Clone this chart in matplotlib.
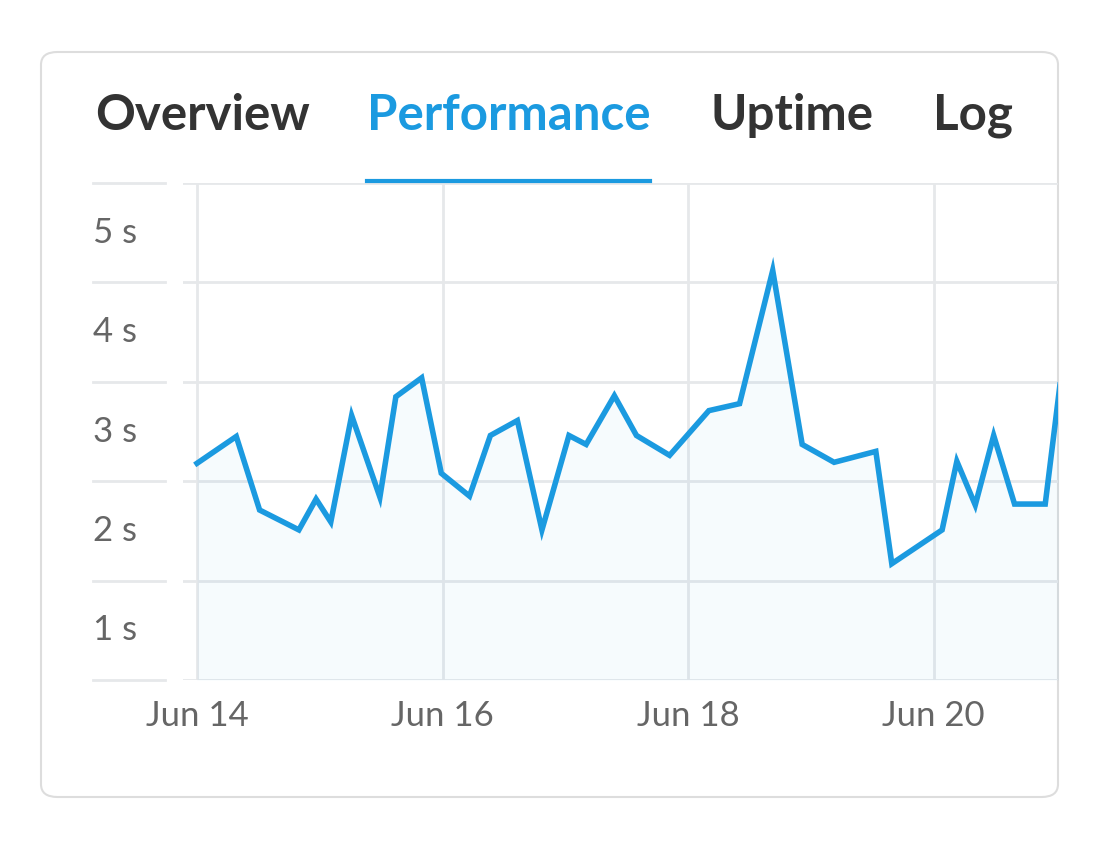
import matplotlib
matplotlib.use("Agg")
import matplotlib.pyplot as plt
from matplotlib.patches import FancyBboxPatch
import numpy as np

days = [14.00,14.32,14.51,14.83,14.97,15.09,15.26,15.49,15.62,15.83,15.99,16.22,16.39,16.61,16.81,17.03,17.17,17.40,17.58,17.85,18.17,18.42,18.69,18.93,19.19,19.53,19.66,20.07,20.19,20.34,20.49,20.66,20.91,21.03]
secs = [2.18,2.45,1.71,1.51,1.82,1.59,2.66,1.84,2.85,3.04,2.08,1.85,2.46,2.61,1.51,2.46,2.37,2.86,2.46,2.26,2.71,2.78,4.12,2.37,2.19,2.30,1.17,1.51,2.20,1.76,2.46,1.77,1.77,2.97]
tabs = ["Overview", "Performance", "Uptime", "Log"]
xticks = [14, 16, 18, 20]
xlabels = ["Jun 14", "Jun 16", "Jun 18", "Jun 20"]
yticks = [1, 2, 3, 4, 5]

W, H = 1100, 850
fig = plt.figure(figsize=(11, 8.5), dpi=100)
fig.patch.set_facecolor("white")
blue = "#1b9ae0"
font = "Lato"

card = FancyBboxPatch((41/W, 1-797/H), 1017/W, 745/H, boxstyle="round,pad=0,rounding_size=0.015",
                      transform=fig.transFigure, facecolor="white", edgecolor="#dddddd", lw=1.5, zorder=-5)
fig.patches.append(card)

tabx = [95, 367, 710, 933]
for i, (t, x) in enumerate(zip(tabs, tabx)):
    fig.text(x/W, 1-116/H, t, fontsize=35.5, fontweight="bold", family=font,
             color=blue if i == 1 else "#333333", va="center", ha="left")
fig.add_artist(plt.Line2D([367/W, 650/W], [1-181/H, 1-181/H], color=blue, lw=3, transform=fig.transFigure))

ax = fig.add_axes([183/W, 1-680/H, (1058-183)/W, (680-183)/H])
ax.patch.set_alpha(0)
ax.set_xlim(13.886, 21.014)
ax.set_ylim(0, 5)
for s in ax.spines.values():
    s.set_visible(False)
ax.set_xticks([]); ax.set_yticks([])
for x, lab in zip(xticks, xlabels):
    ax.axvline(x, color="#e6e8ea", lw=2, zorder=0)
    ax.text(x, -0.2, lab, ha="center", va="top", fontsize=25, family=font, color="#666666")
y0 = 1 - 680/H
for y in [0] + yticks:
    ax.axhline(y, color="#e6e8ea", lw=2, zorder=0)
    fig.add_artist(plt.Line2D([93/W, 165/W], [y0 + y*(497/H)/5]*2, color="#e6e8ea", lw=2, transform=fig.transFigure))
for y in yticks:
    fig.text(93/W, y0 + (y - 0.5)*(497/H)/5, f"{y} s", ha="left", va="center", fontsize=25, family=font, color="#666666")

ax.fill_between(days, secs, 0, color=blue, alpha=0.04, lw=0)
ax.plot(days, secs, color=blue, lw=4, solid_joinstyle="miter")

fig.savefig("out.png", dpi=100)
